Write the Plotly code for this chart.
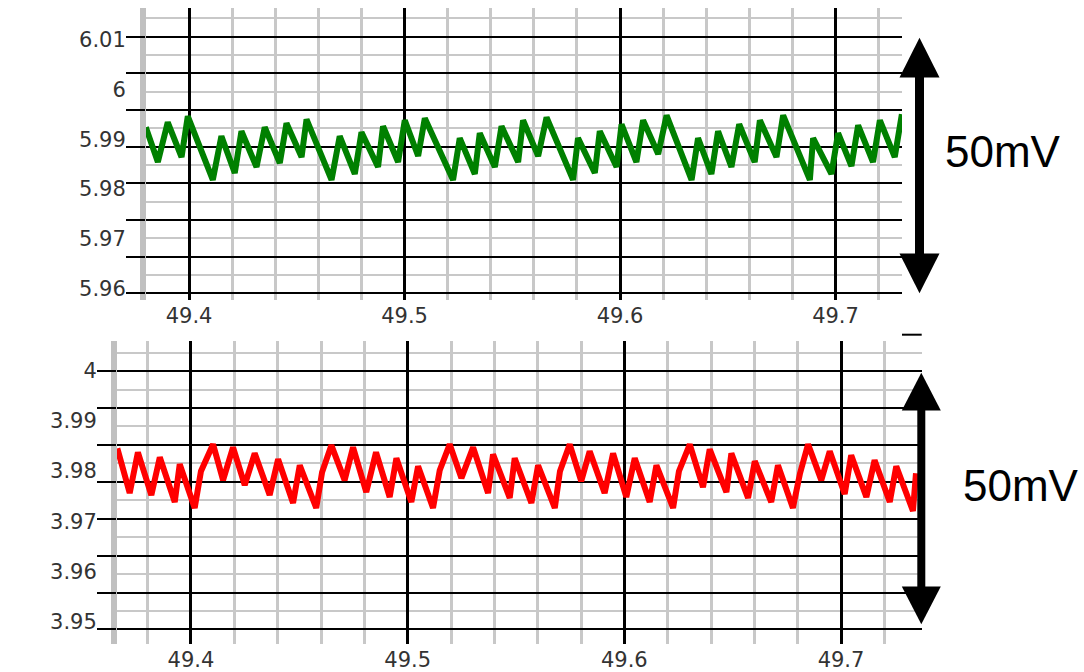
import plotly.graph_objects as go

W, H = 1084, 672

# ---------------- data ----------------
top_time = [49.3799, 49.3855, 49.3901, 49.3965, 49.3994, 49.4110, 49.4150, 49.4212, 49.4243, 49.4313,
            49.4351, 49.4421, 49.4452, 49.4522, 49.4545, 49.4661, 49.4699, 49.4769, 49.4800, 49.4877,
            49.4900, 49.4970, 49.5001, 49.5063, 49.5094, 49.5225, 49.5256, 49.5326, 49.5349, 49.5419,
            49.5450, 49.5527, 49.5550, 49.5620, 49.5659, 49.5782, 49.5805, 49.5883, 49.5906, 49.5984,
            49.6007, 49.6076, 49.6107, 49.6177, 49.6216, 49.6332, 49.6362, 49.6424, 49.6455, 49.6517,
            49.6553, 49.6625, 49.6649, 49.6726, 49.6757, 49.6881, 49.6896, 49.6981, 49.7012, 49.7074,
            49.7105, 49.7174, 49.7206, 49.7275, 49.7308]
top_volt = [5.9924, 5.9854, 5.9934, 5.9864, 5.9946, 5.9818, 5.9906, 5.9832, 5.9916, 5.9844,
            5.9924, 5.9852, 5.9932, 5.9864, 5.9940, 5.9818, 5.9906, 5.9830, 5.9914, 5.9844,
            5.9926, 5.9854, 5.9938, 5.9866, 5.9942, 5.9818, 5.9902, 5.9830, 5.9912, 5.9844,
            5.9926, 5.9854, 5.9938, 5.9866, 5.9944, 5.9818, 5.9902, 5.9832, 5.9916, 5.9844,
            5.9930, 5.9854, 5.9938, 5.9870, 5.9948, 5.9818, 5.9902, 5.9830, 5.9916, 5.9844,
            5.9930, 5.9854, 5.9938, 5.9864, 5.9948, 5.9818, 5.9902, 5.9830, 5.9912, 5.9846,
            5.9928, 5.9854, 5.9938, 5.9864, 5.9950]

bot_time = [49.3660, 49.3717, 49.3755, 49.3817, 49.3856, 49.3925, 49.3948, 49.4017, 49.4046, 49.4102,
            49.4148, 49.4194, 49.4248, 49.4294, 49.4363, 49.4402, 49.4471, 49.4502, 49.4578, 49.4605,
            49.4648, 49.4709, 49.4748, 49.4809, 49.4854, 49.4917, 49.4948, 49.5017, 49.5048, 49.5117,
            49.5148, 49.5194, 49.5248, 49.5302, 49.5371, 49.5394, 49.5471, 49.5494, 49.5571, 49.5602,
            49.5679, 49.5703, 49.5748, 49.5801, 49.5840, 49.5909, 49.5948, 49.6009, 49.6048, 49.6117,
            49.6148, 49.6225, 49.6252, 49.6302, 49.6363, 49.6394, 49.6471, 49.6494, 49.6571, 49.6602,
            49.6678, 49.6709, 49.6778, 49.6811, 49.6848, 49.6909, 49.6948, 49.7017, 49.7047, 49.7117,
            49.7155, 49.7225, 49.7255, 49.7332, 49.7346]
bot_volt = [3.98456, 3.97562, 3.98377, 3.97522, 3.98277, 3.97383, 3.98138, 3.97264, 3.97999, 3.98536,
            3.97820, 3.98476, 3.97721, 3.98357, 3.97522, 3.98238, 3.97363, 3.98118, 3.97264, 3.97979,
            3.98516, 3.97820, 3.98476, 3.97582, 3.98377, 3.97483, 3.98258, 3.97383, 3.98099, 3.97264,
            3.98019, 3.98536, 3.97860, 3.98476, 3.97562, 3.98337, 3.97463, 3.98258, 3.97363, 3.98118,
            3.97264, 3.97999, 3.98536, 3.97801, 3.98397, 3.97562, 3.98357, 3.97483, 3.98258, 3.97383,
            3.98118, 3.97264, 3.97999, 3.98536, 3.97681, 3.98436, 3.97582, 3.98357, 3.97463, 3.98198,
            3.97383, 3.98118, 3.97264, 3.97959, 3.98536, 3.97820, 3.98397, 3.97542, 3.98317, 3.97483,
            3.98218, 3.97383, 3.98099, 3.97204, 3.97959]

x_ticks = [49.4, 49.5, 49.6, 49.7]
x_labels = ["49.4", "49.5", "49.6", "49.7"]
top_yticks = [5.96, 5.97, 5.98, 5.99, 6.00, 6.01]
top_ylabels = ["5.96", "5.97", "5.98", "5.99", "6", "6.01"]
bot_yticks = [3.95, 3.96, 3.97, 3.98, 3.99, 4.00]
bot_ylabels = ["3.95", "3.96", "3.97", "3.98", "3.99", "4"]
span_label = "50mV"


def px(x):
    return x / W


def py(y):
    return 1 - y / H


tick_font = dict(family="DejaVu Sans", size=21, color="#333333")
ylab_font = dict(family="DejaVu Sans", size=21, color="#333333")
BLACK = "#000000"
GRAY = "#c8c8c8"

fig = go.Figure()
# invisible copies on the label axes (keep those axes attached), visible lines on the grid axes
fig.add_trace(go.Scatter(x=top_time, y=top_volt, mode="lines", xaxis="x", yaxis="y", opacity=0,
                         line=dict(color="#008000", width=6), showlegend=False, hoverinfo="skip"))
fig.add_trace(go.Scatter(x=bot_time, y=bot_volt, mode="lines", xaxis="x2", yaxis="y2", opacity=0,
                         line=dict(color="#ff0000", width=6), showlegend=False, hoverinfo="skip"))
fig.add_trace(go.Scatter(x=top_time, y=top_volt, mode="lines", xaxis="x", yaxis="y3",
                         line=dict(color="#008000", width=6), showlegend=False, hoverinfo="skip"))
fig.add_trace(go.Scatter(x=bot_time, y=bot_volt, mode="lines", xaxis="x2", yaxis="y4",
                         line=dict(color="#ff0000", width=6), showlegend=False, hoverinfo="skip"))


def xaxis_cfg(dom, rng, anchor):
    return dict(domain=dom, range=rng, anchor=anchor, tickmode="array", tickvals=x_ticks,
                ticktext=x_labels, showgrid=True, gridcolor=BLACK, gridwidth=3, zeroline=False,
                showline=False, ticks="", tickfont=tick_font, ticklabelstandoff=1,
                minor=dict(tick0=49.38, dtick=0.02, showgrid=True, gridcolor=GRAY, gridwidth=3))


def ylabel_cfg(dom, rng, anchor, vals, text):
    return dict(domain=dom, range=rng, anchor=anchor, tickmode="array", tickvals=vals,
                ticktext=text, showgrid=False, zeroline=False, showline=True,
                linecolor="#c0c0c0", linewidth=6, ticks="", tickfont=ylab_font,
                ticklabelstandoff=10)


def ygrid_cfg(over, anchor, rng, t0, dt):
    return dict(overlaying=over, anchor=anchor, side="left", range=rng, tickmode="linear",
                tick0=t0, dtick=dt, showgrid=True, gridcolor=BLACK, gridwidth=2, zeroline=False,
                showticklabels=False, ticks="outside", ticklen=19, tickwidth=2, tickcolor=BLACK,
                minor=dict(tick0=t0, dtick=dt / 2, showgrid=True, gridcolor=GRAY, gridwidth=2))


top_yrange = [5.95766, 6.01634]
bot_yrange = [3.94536, 4.00608]

fig.update_layout(
    width=W, height=H, margin=dict(l=0, r=0, t=0, b=0),
    paper_bgcolor="white", plot_bgcolor="white", showlegend=False,
    xaxis=xaxis_cfg([px(146), px(902)], [49.38, 49.73086], "y"),
    xaxis2=xaxis_cfg([px(117), px(921.7)], [49.36585, 49.73724], "y2"),
    yaxis=ylabel_cfg([py(301.7), py(8.3)], top_yrange, "x", top_yticks, top_ylabels),
    yaxis2=ylabel_cfg([py(648.3), py(342.7)], bot_yrange, "x2", bot_yticks, bot_ylabels),
    yaxis3=ygrid_cfg("y", "x", top_yrange, 5.959, 0.0073714),
    yaxis4=ygrid_cfg("y2", "x2", bot_yrange, 3.94835, 0.0073797),
)

shapes = []


def add_arrow(cx, ytop, ybot, half_w, head_len, shaft_w):
    shapes.append(dict(type="line", xref="paper", yref="paper",
                       x0=px(cx), x1=px(cx), y0=py(ytop + head_len - 2), y1=py(ybot - head_len + 2),
                       line=dict(color=BLACK, width=shaft_w)))
    up = "M {a},{b} L {c},{b} L {d},{e} Z".format(a=px(cx - half_w), b=py(ytop + head_len),
                                                   c=px(cx + half_w), d=px(cx), e=py(ytop))
    dn = "M {a},{b} L {c},{b} L {d},{e} Z".format(a=px(cx - half_w), b=py(ybot - head_len),
                                                   c=px(cx + half_w), d=px(cx), e=py(ybot))
    for p in (up, dn):
        shapes.append(dict(type="path", xref="paper", yref="paper", path=p,
                           fillcolor=BLACK, line=dict(color=BLACK, width=0)))


add_arrow(919.5, 38, 295, 20, 40, 9)
add_arrow(921.3, 375, 628, 19.5, 38, 8)
shapes.append(dict(type="line", xref="paper", yref="paper", x0=px(902), x1=px(921.7),
                   y0=py(336.7), y1=py(336.7), line=dict(color=BLACK, width=2)))
fig.update_layout(shapes=shapes)

fig.add_annotation(text=span_label, xref="paper", yref="paper", x=px(1003), y=py(152),
                   xanchor="center", yanchor="middle", showarrow=False,
                   font=dict(family="Liberation Sans", size=44, color=BLACK))
fig.add_annotation(text=span_label, xref="paper", yref="paper", x=px(1021), y=py(488),
                   xanchor="center", yanchor="middle", showarrow=False,
                   font=dict(family="Liberation Sans", size=44, color=BLACK))

fig.write_html("out.html")
